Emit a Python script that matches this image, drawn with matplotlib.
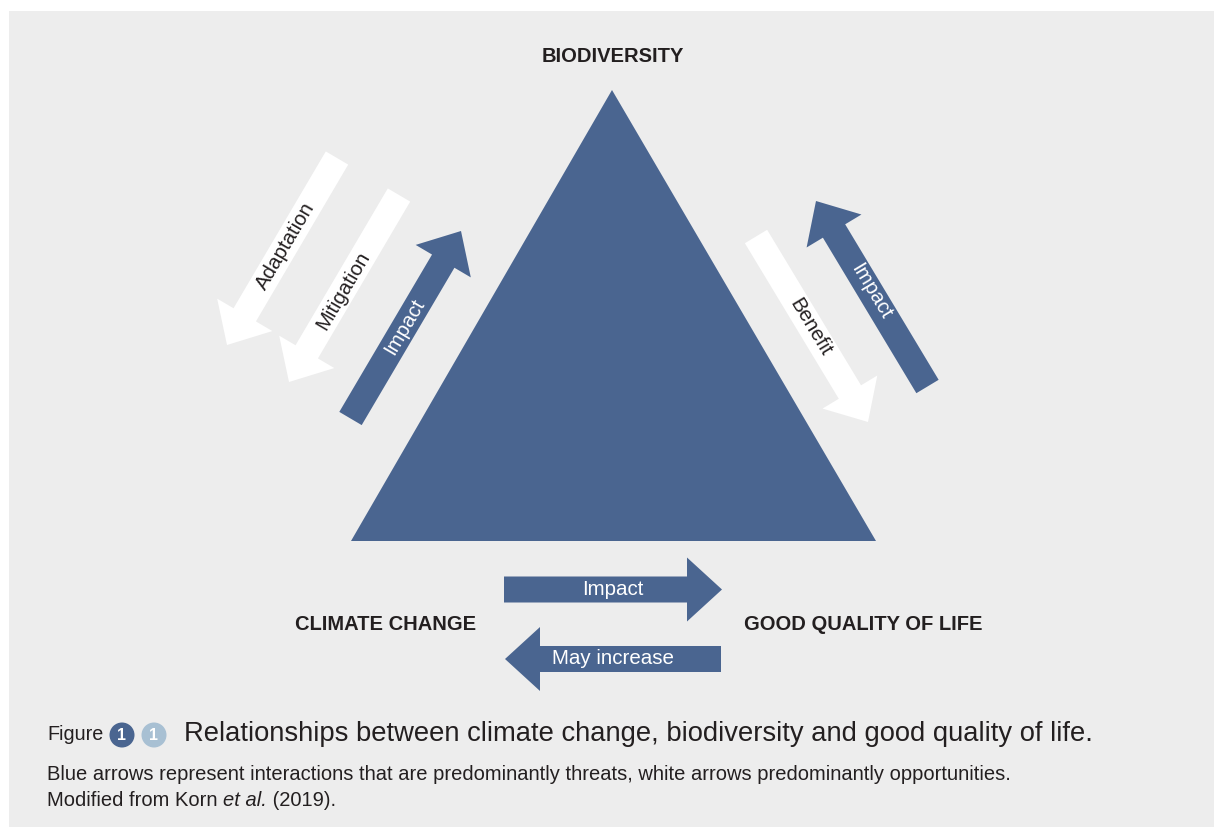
import matplotlib
matplotlib.use("Agg")
import matplotlib.pyplot as plt
import numpy as np
from matplotlib.patches import Polygon, Rectangle, Circle

plt.rcParams['font.family'] = ['Liberation Sans', 'DejaVu Sans']

BLUE = '#4a6590'
LIGHT = '#a8c0d3'
BG = '#ededed'
INK = '#231f20'

# corner labels of the triangle
node_names = ['BIODIVERSITY', 'CLIMATE CHANGE', 'GOOD QUALITY OF LIFE']
node_xy = [(613, 57), (386, 624), (863, 624)]

# triangle corners (pixel space, y down)
tri_pts = [(612, 90), (351, 541), (876, 541)]

# arrows: label, colour kind, tail, tip, where the label sits along it
arrow_labels = ['Adaptation', 'Mitigation', 'Impact', 'Benefit', 'Impact', 'Impact', 'May increase']
arrow_kind = ['white', 'white', 'blue', 'white', 'blue', 'blue', 'blue']
arrow_tail = [(337, 158), (399, 195), (350.5, 418.5), (756, 236.5), (927.5, 386.5), (504, 589.5), (721, 659)]
arrow_tip = [(227, 345), (289, 382), (461, 231), (868, 422), (816, 201), (722, 589.5), (505, 659)]
label_t = [0.47, 0.51, 0.49, 0.49, 0.51, 0.5, 0.5]

title = 'Relationships between climate change, biodiversity and good quality of life.'
note1 = 'Blue arrows represent interactions that are predominantly threats, white arrows predominantly opportunities.'
note2 = ['Modified from Korn ', 'et al.', ' (2019).']

W, H = 1214, 827
fig = plt.figure(figsize=(W / 100, H / 100), dpi=100)
ax = fig.add_axes([0, 0, 1, 1])
ax.set_xlim(0, W)
ax.set_ylim(H, 0)
ax.axis('off')

ax.add_patch(Rectangle((9, 11), W - 9, H - 11, fc=BG, ec='none'))
ax.add_patch(Polygon(tri_pts, closed=True, fc=BLUE, ec='none'))


def arrow_poly(tail, tip, w=26, hw=64, hl=35):
    tail = np.array(tail, float)
    tip = np.array(tip, float)
    u = (tip - tail) / np.linalg.norm(tip - tail)
    n = np.array([-u[1], u[0]])
    base = tip - u * hl
    return [tail + n * w / 2, base + n * w / 2, base + n * hw / 2, tip,
            base - n * hw / 2, base - n * w / 2, tail - n * w / 2]


for lab, kind, tl, tp, t in zip(arrow_labels, arrow_kind, arrow_tail, arrow_tip, label_t):
    fc = BLUE if kind == 'blue' else 'white'
    tc = 'white' if kind == 'blue' else INK
    ax.add_patch(Polygon(arrow_poly(tl, tp), closed=True, fc=fc, ec='none'))
    dx = tp[0] - tl[0]
    dy = tp[1] - tl[1]
    ang = np.degrees(np.arctan2(-dy, dx))
    if ang > 90:
        ang -= 180
    elif ang < -90:
        ang += 180
    cx = tl[0] + t * dx
    cy = tl[1] + t * dy
    ax.text(cx, cy, lab, rotation=ang, rotation_mode='anchor', ha='center', va='center',
            fontsize=14.8, color=tc)

for name, (x, y) in zip(node_names, node_xy):
    ax.text(x, y, name, ha='center', va='center', fontsize=14.5, fontweight='bold', color=INK)

# caption
ax.text(47, 735, 'Figure', ha='left', va='center', fontsize=14.2, color=INK)
for cx, col in [(122, BLUE), (154, LIGHT)]:
    ax.add_patch(Circle((cx, 735), 12.5, fc=col, ec='none'))
    ax.text(cx, 735.5, '1', ha='center', va='center', fontsize=11.5, fontweight='bold', color='white')
ax.text(184, 734, title, ha='left', va='center', fontsize=19.7, color=INK)
ax.text(47, 775, note1, ha='left', va='center', fontsize=14.5, color=INK)

fig.canvas.draw()
r = fig.canvas.get_renderer()
x = 47
for i, part in enumerate(note2):
    tx = ax.text(x, 801, part, ha='left', va='center', fontsize=14.5, color=INK,
                 style='italic' if i == 1 else 'normal')
    bb = tx.get_window_extent(r)
    x = ax.transData.inverted().transform((bb.x1, bb.y0))[0]

fig.savefig('out.png', dpi=100, facecolor='white')
